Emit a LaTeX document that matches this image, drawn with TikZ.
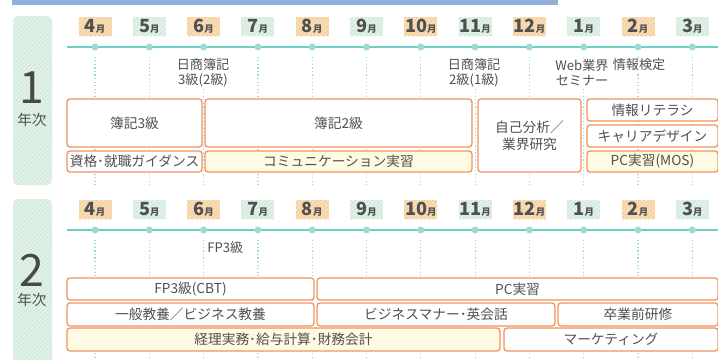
\documentclass[tikz,border=0pt]{standalone}
\usepackage{fontspec}
\setmainfont{Noto Sans CJK JP}
\usetikzlibrary{patterns.meta}
\definecolor{barblue}{HTML}{8FAEDA}
\definecolor{tealline}{HTML}{6CCFC6}
\definecolor{tealdot}{HTML}{9ED9D2}
\definecolor{orline}{HTML}{F0935E}
\definecolor{paleyel}{HTML}{FFFBE2}
\definecolor{txtgray}{HTML}{505050}
\definecolor{mor}{HTML}{F6D2A0}
\definecolor{morl}{HTML}{FAE3C4}
\definecolor{mgr}{HTML}{D3EBDD}
\definecolor{mgrl}{HTML}{E9F5EE}
\def\px{0.03cm}
\tikzset{
  mon/.style={minimum width=33*\px, minimum height=19*\px, inner sep=0pt, text=txtgray},
  mo/.style={mon, fill=mor, postaction={pattern={Lines[angle=45,distance=2.6pt,line width=0.9pt]}, pattern color=morl}},
  mg/.style={mon, fill=mgr, postaction={pattern={Lines[angle=45,distance=2.6pt,line width=0.9pt]}, pattern color=mgrl}},
  panel/.style={fill=mgr, rounded corners=5*\px, inner sep=0pt, postaction={pattern={Lines[angle=45,distance=2.6pt,line width=0.9pt]}, pattern color=mgrl}},
  tdot/.style={circle, fill=tealdot, minimum size=7*\px, inner sep=0pt},
  tline/.style={draw=tealline, line width=2*\px},
  vline/.style={draw=tealdot, dotted, line width=1.2*\px, shorten <=6*\px},
  blk/.style={draw=orline, line width=1.3*\px, rounded corners=3*\px, fill=white, inner sep=0pt,
    align=center, text=txtgray, font=\fontsize{11.7}{14.5}\selectfont},
  yel/.style={blk, fill=paleyel},
  lbl/.style={fill=white, inner sep=1pt, align=center, text=txtgray, font=\fontsize{11.2}{12.8}\selectfont},
  yrnum/.style={inner sep=0pt, text=txtgray!90!black, font=\fontsize{38}{38}\selectfont},
  yrtxt/.style={inner sep=0pt, text=txtgray, font=\fontsize{12.5}{12.5}\selectfont}
}
% one box from its corners: name, x1, y1, x2, y2, style, text
\newcommand\blk[7]{\node[#6, minimum width={(#4-#2)*\px}, minimum height={(#5-#3)*\px}] (#1) at ({(#2+#4)/2},{(#3+#5)/2}) {#7};}
\begin{document}
\begin{tikzpicture}[x=\px,y=-\px]
\clip (0,0) rectangle (718,360);
\fill[barblue] (12,-2) rectangle (558,5);

\foreach \r/\dy in {1/0,2/183}{
  \node[panel, minimum width=39*\px, minimum height=169*\px] (p\r) at (32.5,{100.5+\dy}) {};
  \coordinate (s\r) at (67,{47+\dy});
  \coordinate (t\r) at (720,{47+\dy});
  \draw[tline] (s\r) -- (t\r);
  \foreach \m/\st [count=\i] in {4/mo,5/mg,6/mo,7/mg,8/mo,9/mg,10/mo,11/mg,12/mo,1/mg,2/mo,3/mg}{
    \pgfmathsetmacro\x{95+54.3*(\i-1)}
    \node[\st] (m\r-\i) at (\x,{26.5+\dy}) {\fontsize{15.5}{15.5}\selectfont\bfseries\m\fontsize{8}{8}\selectfont 月};
    \node[tdot] (d\r-\i) at (\x,{47+\dy}) {};
    \coordinate (e\r-\i) at (\x,{186+\dy});
    \draw[vline] (d\r-\i) -- (e\r-\i);
  }
}

\node[yrnum] (n1) at (32,88) {1};
\node[yrtxt] (y1) at (32,120) {年次};
\node[yrnum] (n2) at (32,270) {2};
\node[yrtxt] (y2) at (32,300) {年次};

% 1st year
\node[lbl] (nissho3) at (203,72.5) {日商簿記\\3級(2級)};
\node[lbl] (nissho2) at (474,72.5) {日商簿記\\2級(1級)};
\node[lbl] (web) at (582,72.5) {Web業界\\セミナー};
\node[lbl] (joho) at (639,65) {情報検定};
\blk{boki3}{67}{99}{202}{147}{blk}{簿記3級}
\blk{guide}{67}{151}{202}{172}{blk}{資格･就職ガイダンス}
\blk{boki2}{205}{99}{472}{147}{blk}{簿記2級}
\blk{comm}{205}{151}{472}{172}{yel}{コミュニケーション実習}
\blk{self}{478}{99}{581}{172}{blk}{自己分析／\\業界研究}
\blk{lit}{587}{99}{718}{121}{blk}{情報リテラシ}
\blk{career}{587}{125}{718}{147}{blk}{キャリアデザイン}
\blk{mos}{587}{151}{718}{172}{yel}{PC実習(MOS)}

% 2nd year
\node[lbl, anchor=west] (fp3) at (206,248) {FP3級};
\blk{cbt}{67}{278}{314}{300}{blk}{FP3級(CBT)}
\blk{pc}{317}{278}{718}{300}{blk}{PC実習}
\blk{gen}{67}{303}{314}{326}{blk}{一般教養／ビジネス教養}
\blk{manner}{317}{303}{555}{326}{blk}{ビジネスマナー･英会話}
\blk{pre}{558}{303}{718}{326}{blk}{卒業前研修}
\blk{acct}{67}{328}{500}{351}{yel}{経理実務･給与計算･財務会計}
\blk{mkt}{504}{328}{718}{351}{blk}{マーケティング}
\end{tikzpicture}
\end{document}
